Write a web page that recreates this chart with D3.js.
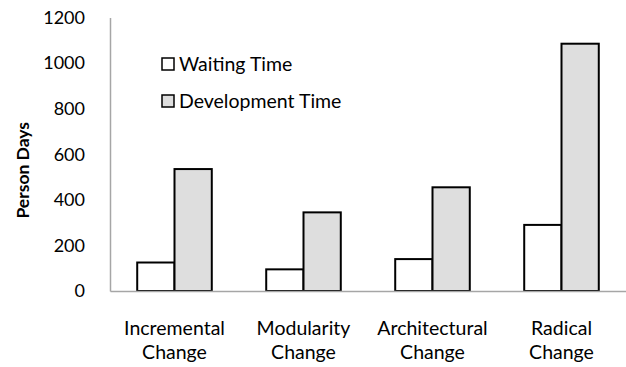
<!DOCTYPE html>
<html>
<head>
<meta charset="utf-8">
<script src="https://cdn.jsdelivr.net/npm/d3@7"></script>
<style>
  html, body { margin: 0; padding: 0; background: #fff; }
  text { font-family: "Lato", "Open Sans", sans-serif; fill: #000; }
</style>
</head>
<body>
<svg id="chart" width="626" height="367"></svg>
<script>
// Person-days per change type
const categories = ["Incremental Change", "Modularity Change", "Architectural Change", "Radical Change"];
const seriesNames = ["Waiting Time", "Development Time"];
const waitingTime = [125, 95, 140, 290];
const developmentTime = [535, 345, 455, 1085];
const yTicks = [0, 200, 400, 600, 800, 1000, 1200];
const seriesFill = ["#ffffff", "#dedede"];

const svg = d3.select("#chart");
const margin = { left: 110, right: 0, top: 17.5, bottom: 76 };
const W = 626, H = 367;

const x = d3.scaleBand().domain(categories).range([margin.left, W - margin.right]).paddingInner(0).paddingOuter(0);
const xs = d3.scaleBand().domain(seriesNames).range([0, x.bandwidth()]).paddingInner(0).paddingOuter(0.73);
const y = d3.scaleLinear().domain([0, 1200]).range([H - margin.bottom, margin.top]);

const rows = categories.map((c, i) => ({ cat: c, vals: [waitingTime[i], developmentTime[i]] }));

// bars
const groups = svg.append("g").selectAll("g").data(rows).join("g")
  .attr("transform", d => `translate(${x(d.cat)},0)`);
groups.selectAll("rect").data(d => d.vals.map((v, j) => ({ v, s: seriesNames[j], j })))
  .join("rect")
  .attr("x", d => xs(d.s))
  .attr("width", xs.bandwidth())
  .attr("y", d => y(d.v))
  .attr("height", d => y(0) - y(d.v))
  .attr("fill", d => seriesFill[d.j])
  .attr("stroke", "#000")
  .attr("stroke-width", 2);

// y axis: line plus labels, no tick marks
const yAxis = svg.append("g").attr("transform", `translate(${margin.left},0)`)
  .call(d3.axisLeft(y).tickValues(yTicks).tickSize(0).tickPadding(25).tickFormat(d3.format("d")));
yAxis.select(".domain").attr("stroke", "#a6a6a6").attr("stroke-width", 1.5);
yAxis.selectAll("text").style("font-family", "Lato, 'Open Sans', sans-serif").style("font-size", "18px").attr("fill", "#000");

// x axis baseline
const xAxis = svg.append("g").attr("transform", `translate(0,${y(0)})`)
  .call(d3.axisBottom(x).tickSize(0).tickFormat(""));
xAxis.select(".domain").attr("stroke", "#a6a6a6").attr("stroke-width", 1.5);

// two-line category labels
svg.append("g").selectAll("text").data(categories).join("text")
  .attr("x", d => x(d) + x.bandwidth() / 2)
  .attr("y", 335)
  .attr("text-anchor", "middle")
  .style("font-size", "19.5px")
  .selectAll("tspan").data(d => d.split(" ")).join("tspan")
  .attr("x", function () { return d3.select(this.parentNode).attr("x"); })
  .attr("dy", (d, i) => i === 0 ? 0 : 24)
  .text(d => d);

// y axis title
svg.append("text")
  .attr("transform", `translate(29,${(y(0) + y(1200)) / 2 + 16}) rotate(-90)`)
  .attr("text-anchor", "middle")
  .style("font-size", "17.5px")
  .style("font-weight", "bold")
  .text("Person Days");

// legend
const legend = svg.append("g").selectAll("g").data(seriesNames).join("g")
  .attr("transform", (d, i) => `translate(162,${58 + i * 37})`);
legend.append("rect").attr("width", 12).attr("height", 12)
  .attr("fill", (d, i) => seriesFill[i]).attr("stroke", "#000").attr("stroke-width", 1.5);
legend.append("text").attr("x", 17).attr("y", 13)
  .style("font-size", "19.5px").text(d => d);
</script>
</body>
</html>
